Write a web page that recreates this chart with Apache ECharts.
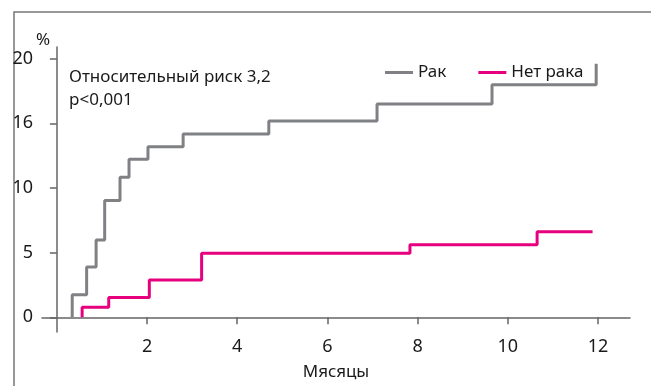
<!DOCTYPE html>
<html>
<head>
<meta charset="utf-8">
<script src="https://cdn.jsdelivr.net/npm/echarts@6/dist/echarts.min.js"></script>
<style>html,body{margin:0;padding:0;background:#fff}#c{width:651px;height:386px}</style>
</head>
<body>
<div id="c"></div>
<script>
// Category / series data (months, cumulative %)
const seriesNames = ['Рак', 'Нет рака'];
const cancerStart = 0.34;
const cancerTimes = [0.34, 0.66, 0.87, 1.06, 1.40, 1.60, 2.02, 2.80, 4.70, 7.10, 9.65, 11.96];
const cancerLevels = [1.74, 3.89, 5.98, 9.02, 10.83, 12.22, 13.18, 14.17, 15.17, 16.49, 17.98, 19.6];
const noCancerStart = 0.56;
const noCancerTimes = [0.56, 1.15, 2.05, 3.21, 7.83, 10.65];
const noCancerLevels = [0.78, 1.52, 2.88, 4.95, 5.61, 6.61];
const noCancerEnd = 11.88;
const xTickValues = [2, 4, 6, 8, 10, 12];
const yTickValues = [0, 5, 10, 15, 20];
const yTickLabels = ['0', '5', '10', '16', '20'];
const xAxisTitle = 'Мясяцы';
const yAxisTitle = '%';
const noteLines = ['Относительный риск 3,2', 'p<0,001'];

function stepData(start, times, levels, end) {
  const d = [[start, 0]];
  for (let i = 0; i < times.length; i++) d.push([times[i], levels[i]]);
  if (end !== undefined) d.push([end, levels[levels.length - 1]]);
  return d;
}

const FONT = 'Noto Sans';
const TXT = '#1a1a1a';
const chart = echarts.init(document.getElementById('c'), null, {renderer: 'canvas'});
chart.setOption({
  animation: false,
  backgroundColor: '#ffffff',
  textStyle: {fontFamily: FONT},
  grid: {left: 42, right: 21, top: 47, bottom: 48},
  legend: {
    left: 380, top: 59,
    icon: 'rect',
    itemWidth: 28, itemHeight: 3, itemGap: 32,
    textStyle: {fontFamily: FONT, fontSize: 17, color: TXT},
    data: seriesNames
  },
  xAxis: {
    type: 'value', min: -0.33, max: 12.71,
    axisLine: {onZero: true, lineStyle: {color: '#666', width: 1.5}},
    axisTick: {show: true, length: 7, customValues: xTickValues, lineStyle: {color: '#666', width: 1.5}},
    axisLabel: {customValues: xTickValues, margin: 6, fontSize: 18, color: TXT, fontFamily: FONT},
    splitLine: {show: false},
    name: xAxisTitle, nameLocation: 'middle', nameGap: 32,
    nameTextStyle: {fontSize: 17, color: TXT, fontFamily: FONT}
  },
  yAxis: {
    type: 'value', min: -1.14, max: 20.9,
    axisLine: {show: true, onZero: true, lineStyle: {color: '#666', width: 1.5}},
    axisTick: {show: true, length: 7, customValues: yTickValues, lineStyle: {color: '#666', width: 1.5}},
    axisLabel: {
      customValues: yTickValues, margin: 9, fontSize: 18, color: TXT, fontFamily: FONT,
      formatter: function (v) { const i = yTickValues.indexOf(Math.round(v)); return i >= 0 ? yTickLabels[i] : ''; }
    },
    splitLine: {show: false}
  },
  graphic: [
    {type: 'polyline', silent: true, shape: {points: [[14, 386], [14, 12], [651, 12]]},
     style: {stroke: '#777', lineWidth: 1.5, fill: null}},
    {type: 'text', left: 36, top: 32, style: {text: yAxisTitle, font: '17px "Noto Sans"', fill: TXT}},
    {type: 'text', left: 69, top: 69, style: {text: noteLines[0], font: '17px "Noto Sans"', fill: TXT}},
    {type: 'text', left: 69, top: 92, style: {text: noteLines[1], font: '17px "Noto Sans"', fill: TXT}}
  ],
  series: [
    {name: seriesNames[0], type: 'line', step: 'end', symbol: 'none',
     lineStyle: {color: '#808184', width: 3}, itemStyle: {color: '#808184'},
     data: stepData(cancerStart, cancerTimes, cancerLevels)},
    {name: seriesNames[1], type: 'line', step: 'end', symbol: 'none',
     lineStyle: {color: '#e6007e', width: 3}, itemStyle: {color: '#e6007e'},
     data: stepData(noCancerStart, noCancerTimes, noCancerLevels, noCancerEnd)}
  ]
});
</script>
</body>
</html>
